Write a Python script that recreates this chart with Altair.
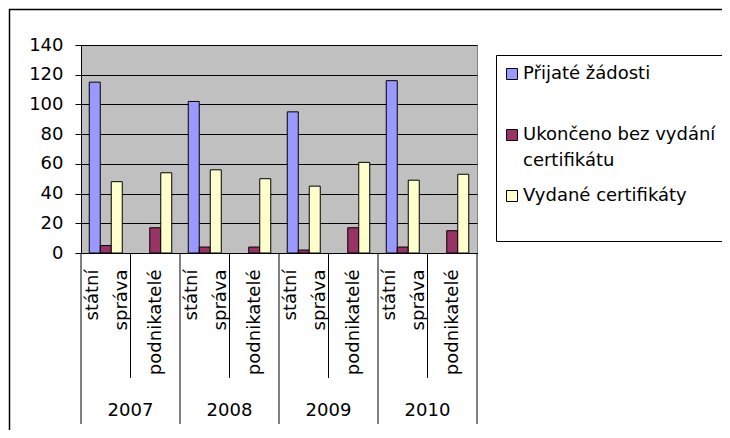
import altair as alt
import pandas as pd

years = ["2007", "2008", "2009", "2010"]
subcategories = ["státní správa", "podnikatelé"]
series = ["Přijaté žádosti", "Ukončeno bez vydání certifikátu", "Vydané certifikáty"]
colors = ["#9999FF", "#993366", "#FFFFCC"]
prijate = [115, None, 102, None, 95, None, 116, None]
ukonceno = [5, 17, 4, 4, 2, 17, 4, 15]
vydane = [48, 54, 56, 50, 45, 61, 49, 53]
y_ticks = [0, 20, 40, 60, 80, 100, 120, 140]

keys = [f"{y}|{s}" for y in years for s in subcategories]
rows = []
for name, vals in zip(series, [prijate, ukonceno, vydane]):
    for k, v in zip(keys, vals):
        if v is not None:
            rows.append({"key": k, "series": name, "value": v})
df = pd.DataFrame(rows)

W, H = 396, 208
FONT = "DejaVu Sans"

xscale = alt.Scale(domain=keys, paddingInner=0, paddingOuter=0)

border = alt.Chart(pd.DataFrame({"a": [0]})).mark_rect(
    filled=False, stroke="black", strokeWidth=1.5
).encode(
    x=alt.value(-71.5), x2=alt.value(1000), y=alt.value(-35.5), y2=alt.value(1000)
)

bars = alt.Chart(df).mark_bar(stroke="black", strokeWidth=1).encode(
    x=alt.X(
        "key:N", scale=xscale, sort=keys,
        axis=alt.Axis(
            title=None, labelAngle=270,
            labelExpr="split(split(datum.value, '|')[1], ' ')",
            labelLineHeight=29, labelPadding=16, ticks=False,
            labelOffset={"condition": {"test": "indexof(datum.value, 'státní') >= 0", "value": -12.5}, "value": 1},
            domain=True, domainColor="black", labelFontSize=18,
            labelColor="black", labelOverlap=False, labelBound=False,
        ),
    ),
    xOffset=alt.XOffset(
        "series:N", sort=series,
        scale=alt.Scale(domain=series, paddingOuter=0.75, paddingInner=0),
    ),
    y=alt.Y(
        "value:Q", scale=alt.Scale(domain=[0, 140], nice=False),
        axis=alt.Axis(
            title=None, values=y_ticks, domainColor="black", tickColor="black",
            tickSize=6, labelPadding=12, labelFontSize=18, labelColor="black",
            gridColor="black", gridWidth=1, gridOpacity=1,
        ),
    ),
    color=alt.Color(
        "series:N", sort=series,
        scale=alt.Scale(domain=series, range=colors),
        legend=alt.Legend(
            title=None, orient="none", legendX=415, legendY=10,
            fillColor="white", strokeColor="black", padding=10,
            symbolType="square", symbolSize=121, symbolStrokeColor="black",
            symbolStrokeWidth=1, symbolOffset=-3, labelFontSize=18, labelLimit=500,
            labelOffset=2, rowPadding=17, labelColor="black",
            labelExpr="datum.label == 'Ukončeno bez vydání certifikátu' ? ['Ukončeno bez vydání', 'certifikátu'] : [datum.label, ' ']",
        ),
    ),
)

inner_sep = alt.Chart(pd.DataFrame({"key": [f"{y}|podnikatelé" for y in years]})).mark_rule(
    color="black", strokeWidth=1
).encode(
    x=alt.X("key:N", scale=xscale, sort=keys, bandPosition=0),
    y=alt.value(H), y2=alt.value(H + 125),
)

year_sep = alt.Chart(pd.DataFrame({"key": [f"{y}|státní správa" for y in years]})).mark_rule(
    color="black", strokeWidth=1
).encode(
    x=alt.X("key:N", scale=xscale, sort=keys, bandPosition=0),
    y=alt.value(H), y2=alt.value(H + 171),
)

end_sep = alt.Chart(pd.DataFrame({"key": [keys[-1]]})).mark_rule(
    color="black", strokeWidth=1
).encode(
    x=alt.X("key:N", scale=xscale, sort=keys, bandPosition=1),
    y=alt.value(H), y2=alt.value(H + 171),
)

year_labels = alt.Chart(
    pd.DataFrame({"key": [f"{y}|podnikatelé" for y in years], "year": years})
).mark_text(fontSize=18, color="black", baseline="middle", align="center").encode(
    x=alt.X("key:N", scale=xscale, sort=keys, bandPosition=0),
    y=alt.value(H + 158),
    text="year:N",
)

chart = alt.layer(border, bars, inner_sep, year_sep, end_sep, year_labels).properties(
    width=W, height=H,
    autosize=alt.AutoSizeParams(type="none"),
    padding={"left": 73, "top": 37, "right": 245, "bottom": 177},
).configure(
    font=FONT, style={"guide-label": {"lineHeight": 26}}
).configure_view(
    fill="#C0C0C0", stroke="#808080", strokeWidth=1
)

chart.save("out.html", embed_options={"renderer": "svg", "actions": False})
